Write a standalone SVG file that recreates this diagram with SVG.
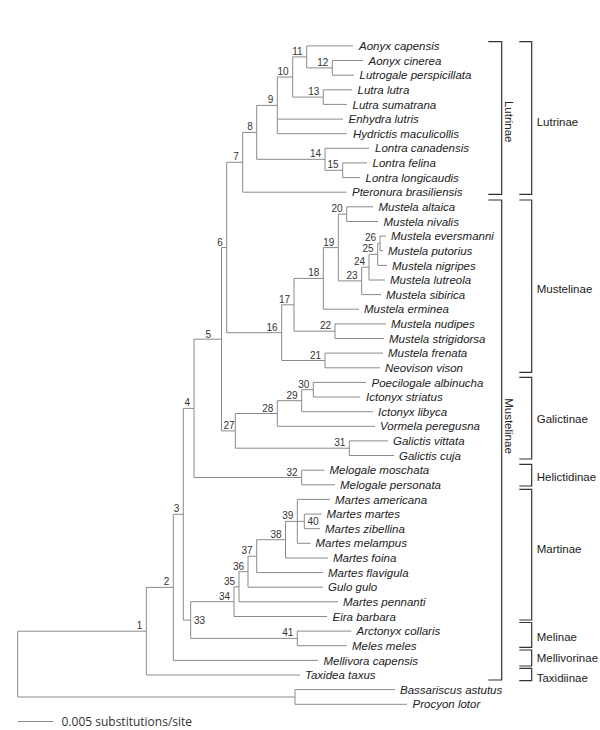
<svg xmlns="http://www.w3.org/2000/svg" width="600" height="730" viewBox="0 0 600 730">
<style>
.br{fill:none;stroke:#8a8a8a;stroke-width:1}
.bk{fill:none;stroke:#333;stroke-width:1.2}
.tx{font-family:"Liberation Sans",Arial,sans-serif;font-style:italic;font-size:11.5px;fill:#222}
.nl{font-family:"Liberation Sans",Arial,sans-serif;font-size:10px;fill:#333;text-anchor:end}
.cl{font-family:"Liberation Sans",Arial,sans-serif;font-size:11.5px;fill:#222}
.sc{font-family:"Open Sans","DejaVu Sans",sans-serif;font-size:12px;fill:#333}
</style>
<rect width="600" height="730" fill="#fff"/>
<g id="connectors" class="br">
<path d="M17.7,631.2 V697"/>
<path d="M17.7,631.2 H146.3 M146.3,587.4 V675"/>
<path d="M146.3,587.4 H173.3 M173.3,514.3 V660.4"/>
<path d="M173.3,514.3 H183.3 M183.3,408.4 V620.1"/>
<path d="M183.3,408.4 H194 M194,339.2 V477.5"/>
<path d="M194,339.2 H221.5 M221.5,247.5 V430.9"/>
<path d="M221.5,247.5 H226.7 M226.7,162.3 V332.7"/>
<path d="M226.7,162.3 H242.7 M242.7,132.4 V192.2"/>
<path d="M242.7,132.4 H256.7 M256.7,105.4 V159.3"/>
<path d="M256.7,105.4 H277.3 M277.3,77 V133.7"/>
<path d="M277.3,77 H292.7 M292.7,56.9 V97.1"/>
<path d="M292.7,56.9 H306.7 M306.7,45.9 V67.9"/>
<path d="M306.7,67.9 H332.3 M332.3,60.5 V75.2"/>
<path d="M292.7,97.1 H323.3 M323.3,89.8 V104.4"/>
<path d="M256.7,159.3 H325 M325,148.3 V170.3"/>
<path d="M325,170.3 H342.7 M342.7,162.9 V177.6"/>
<path d="M226.7,332.7 H281.7 M281.7,304.8 V360.5"/>
<path d="M281.7,304.8 H294 M294,278.4 V331.2"/>
<path d="M294,278.4 H323.3 M323.3,247.6 V309.2"/>
<path d="M323.3,247.6 H338.3 M338.3,214.2 V280.9"/>
<path d="M338.3,214.2 H346.7 M346.7,206.8 V221.5"/>
<path d="M281.7,360.5 H325 M325,353.1 V367.8"/>
<path d="M294,331.2 H335 M335,323.9 V338.5"/>
<path d="M338.3,280.9 H361.7 M361.7,267.2 V294.6"/>
<path d="M361.7,267.2 H369 M369,254.4 V280"/>
<path d="M369,254.4 H377.7 M377.7,243.4 V265.4"/>
<path d="M377.7,243.4 H380 M380,236.1 V250.7"/>
<path d="M221.5,430.9 H235.3 M235.3,413.5 V448.2"/>
<path d="M235.3,413.5 H277.3 M277.3,400.7 V426.3"/>
<path d="M277.3,400.7 H301.7 M301.7,389.7 V411.7"/>
<path d="M301.7,389.7 H313.3 M313.3,382.4 V397"/>
<path d="M235.3,448.2 H349.3 M349.3,440.9 V455.5"/>
<path d="M194,477.5 H301.7 M301.7,470.2 V484.8"/>
<path d="M183.3,620.1 H190.7 M190.7,601.7 V638.4"/>
<path d="M190.7,601.7 H234 M234,586.8 V616.5"/>
<path d="M234,586.8 H239 M239,571.7 V601.8"/>
<path d="M239,571.7 H248 M248,556.2 V587.2"/>
<path d="M248,556.2 H256.7 M256.7,539.7 V572.6"/>
<path d="M256.7,539.7 H285.5 M285.5,521.4 V558"/>
<path d="M285.5,521.4 H297.3 M297.3,499.4 V543.3"/>
<path d="M297.3,521.4 H304.3 M304.3,514.1 V528.7"/>
<path d="M190.7,638.4 H297.3 M297.3,631.1 V645.7"/>
<path d="M17.7,697 H295 M295,689.6 V704.3"/>
<path d="M306.7,45.9 H353"/>
<path d="M332.3,60.5 H363"/>
<path d="M332.3,75.2 H354"/>
<path d="M323.3,89.8 H352"/>
<path d="M323.3,104.4 H347"/>
<path d="M277.3,119.1 H343"/>
<path d="M277.3,133.7 H347"/>
<path d="M325,148.3 H369"/>
<path d="M342.7,162.9 H367"/>
<path d="M342.7,177.6 H360"/>
<path d="M242.7,192.2 H346.5"/>
<path d="M346.7,206.8 H373"/>
<path d="M346.7,221.5 H378"/>
<path d="M380,236.1 H386"/>
<path d="M380,250.7 H383"/>
<path d="M377.7,265.4 H387"/>
<path d="M369,280 H385"/>
<path d="M361.7,294.6 H381"/>
<path d="M323.3,309.2 H359"/>
<path d="M335,323.9 H386"/>
<path d="M335,338.5 H384"/>
<path d="M325,353.1 H383"/>
<path d="M325,367.8 H380"/>
<path d="M313.3,382.4 H366"/>
<path d="M313.3,397 H360"/>
<path d="M301.7,411.7 H373"/>
<path d="M277.3,426.3 H375"/>
<path d="M349.3,440.9 H388"/>
<path d="M349.3,455.5 H394"/>
<path d="M301.7,470.2 H324.5"/>
<path d="M301.7,484.8 H335"/>
<path d="M297.3,499.4 H330"/>
<path d="M304.3,514.1 H321.5"/>
<path d="M304.3,528.7 H320"/>
<path d="M297.3,543.3 H310.5"/>
<path d="M285.5,558 H328"/>
<path d="M256.7,572.6 H323"/>
<path d="M248,587.2 H323"/>
<path d="M239,601.8 H338"/>
<path d="M234,616.5 H327"/>
<path d="M297.3,631.1 H351.5"/>
<path d="M297.3,645.7 H347"/>
<path d="M173.3,660.4 H318"/>
<path d="M146.3,675 H300"/>
<path d="M295,689.6 H395"/>
<path d="M295,704.3 H407"/>
</g>
<g id="taxa" class="tx">
<g id="t00"><text x="359" y="50">Aonyx capensis</text></g>
<g id="t01"><text x="368.5" y="64.6">Aonyx cinerea</text></g>
<g id="t02"><text x="359.5" y="79.3">Lutrogale perspicillata</text></g>
<g id="t03"><text x="357.5" y="93.9">Lutra lutra</text></g>
<g id="t04"><text x="352.5" y="108.5">Lutra sumatrana</text></g>
<g id="t05"><text x="348.5" y="123.2">Enhydra lutris</text></g>
<g id="t06"><text x="353" y="137.8">Hydrictis maculicollis</text></g>
<g id="t07"><text x="375" y="152.4">Lontra canadensis</text></g>
<g id="t08"><text x="372.5" y="167">Lontra felina</text></g>
<g id="t09"><text x="365.5" y="181.7">Lontra longicaudis</text></g>
<g id="t10"><text x="352" y="196.3">Pteronura brasiliensis</text></g>
<g id="t11"><text x="378.5" y="210.9">Mustela altaica</text></g>
<g id="t12"><text x="383.5" y="225.6">Mustela nivalis</text></g>
<g id="t13"><text x="391" y="240.2">Mustela eversmanni</text></g>
<g id="t14"><text x="388" y="254.8">Mustela putorius</text></g>
<g id="t15"><text x="392" y="269.5">Mustela nigripes</text></g>
<g id="t16"><text x="390" y="284.1">Mustela lutreola</text></g>
<g id="t17"><text x="386" y="298.7">Mustela sibirica</text></g>
<g id="t18"><text x="364" y="313.3">Mustela erminea</text></g>
<g id="t19"><text x="391" y="328">Mustela nudipes</text></g>
<g id="t20"><text x="389" y="342.6">Mustela strigidorsa</text></g>
<g id="t21"><text x="388" y="357.2">Mustela frenata</text></g>
<g id="t22"><text x="385" y="371.9">Neovison vison</text></g>
<g id="t23"><text x="371.5" y="386.5">Poecilogale albinucha</text></g>
<g id="t24"><text x="366" y="401.1">Ictonyx striatus</text></g>
<g id="t25"><text x="378" y="415.8">Ictonyx libyca</text></g>
<g id="t26"><text x="380" y="430.4">Vormela peregusna</text></g>
<g id="t27"><text x="393" y="445">Galictis vittata</text></g>
<g id="t28"><text x="399" y="459.6">Galictis cuja</text></g>
<g id="t29"><text x="329.5" y="474.3">Melogale moschata</text></g>
<g id="t30"><text x="340" y="488.9">Melogale personata</text></g>
<g id="t31"><text x="335" y="503.5">Martes americana</text></g>
<g id="t32"><text x="326.5" y="518.2">Martes martes</text></g>
<g id="t33"><text x="325" y="532.8">Martes zibellina</text></g>
<g id="t34"><text x="315.5" y="547.4">Martes melampus</text></g>
<g id="t35"><text x="333" y="562.1">Martes foina</text></g>
<g id="t36"><text x="328" y="576.7">Martes flavigula</text></g>
<g id="t37"><text x="328" y="591.3">Gulo gulo</text></g>
<g id="t38"><text x="343" y="605.9">Martes pennanti</text></g>
<g id="t39"><text x="332.5" y="620.6">Eira barbara</text></g>
<g id="t40"><text x="356.5" y="635.2">Arctonyx collaris</text></g>
<g id="t41"><text x="352" y="649.8">Meles meles</text></g>
<g id="t42"><text x="323.5" y="664.5">Mellivora capensis</text></g>
<g id="t43"><text x="305" y="679.1">Taxidea taxus</text></g>
<g id="t44"><text x="400" y="693.7">Bassariscus astutus</text></g>
<g id="t45"><text x="412.5" y="708.4">Procyon lotor</text></g>
</g>
<g id="nodes" class="nl">
<g id="n1"><text x="142.3" y="629.2">1</text></g>
<g id="n2"><text x="169.3" y="585.4">2</text></g>
<g id="n3"><text x="179.3" y="512.3">3</text></g>
<g id="n4"><text x="190" y="406.4">4</text></g>
<g id="n5"><text x="211" y="337.5">5</text></g>
<g id="n6"><text x="222.7" y="245.5">6</text></g>
<g id="n7"><text x="238.7" y="160.3">7</text></g>
<g id="n8"><text x="252.7" y="130.4">8</text></g>
<g id="n9"><text x="273.3" y="103.4">9</text></g>
<g id="n10"><text x="288.7" y="75">10</text></g>
<g id="n11"><text x="302.7" y="54.9">11</text></g>
<g id="n12"><text x="328.3" y="65.9">12</text></g>
<g id="n13"><text x="319.3" y="95.1">13</text></g>
<g id="n14"><text x="321" y="157.3">14</text></g>
<g id="n15"><text x="338.7" y="168.3">15</text></g>
<g id="n16"><text x="277.7" y="330.7">16</text></g>
<g id="n17"><text x="290" y="302.8">17</text></g>
<g id="n18"><text x="319.3" y="276.4">18</text></g>
<g id="n19"><text x="334.3" y="245.6">19</text></g>
<g id="n20"><text x="342.7" y="212.2">20</text></g>
<g id="n21"><text x="321" y="358.5">21</text></g>
<g id="n22"><text x="331" y="329.2">22</text></g>
<g id="n23"><text x="357.7" y="278.9">23</text></g>
<g id="n24"><text x="365" y="265.2">24</text></g>
<g id="n25"><text x="373.7" y="252.4">25</text></g>
<g id="n26"><text x="376" y="241.4">26</text></g>
<g id="n27"><text x="234.5" y="429">27</text></g>
<g id="n28"><text x="273.3" y="411.5">28</text></g>
<g id="n29"><text x="297.7" y="398.7">29</text></g>
<g id="n30"><text x="309.3" y="387.7">30</text></g>
<g id="n31"><text x="345.3" y="446.2">31</text></g>
<g id="n32"><text x="297.7" y="475.5">32</text></g>
<g id="n33"><text x="194" y="623.6" style="text-anchor:start">33</text></g>
<g id="n34"><text x="230" y="599.7">34</text></g>
<g id="n35"><text x="235" y="584.8">35</text></g>
<g id="n36"><text x="244" y="569.7">36</text></g>
<g id="n37"><text x="252.7" y="554.2">37</text></g>
<g id="n38"><text x="281.5" y="537.7">38</text></g>
<g id="n39"><text x="293.3" y="519.4">39</text></g>
<g id="n40"><text x="307.5" y="525" style="text-anchor:start">40</text></g>
<g id="n41"><text x="293.3" y="636.4">41</text></g>
</g>
<g id="groups">
<g id="g-lutrinae-inner"><path class="bk" d="M488.3,41.7 H501.7 V194.3 H488.3"/><text class="cl" transform="translate(505,121.7) rotate(90)" text-anchor="middle">Lutrinae</text></g>
<g id="g-mustelinae-inner"><path class="bk" d="M488.3,200 H501.7 V680 H488.3"/><text class="cl" transform="translate(505,426) rotate(90)" text-anchor="middle">Mustelinae</text></g>
<g id="g-lutrinae"><path class="bk" d="M519.3,41.7 H531.7 V194.3 H519.3"/><text class="cl" x="536.7" y="125.5">Lutrinae</text></g>
<g id="g-mustelinae"><path class="bk" d="M519.3,200 H531.7 V372.3 H519.3"/><text class="cl" x="536.7" y="293">Mustelinae</text></g>
<g id="g-galictinae"><path class="bk" d="M519.3,377.3 H531.7 V459 H519.3"/><text class="cl" x="536.7" y="423">Galictinae</text></g>
<g id="g-helictidinae"><path class="bk" d="M519.3,464.3 H531.7 V486 H519.3"/><text class="cl" x="536.7" y="480.5">Helictidinae</text></g>
<g id="g-martinae"><path class="bk" d="M519.3,489.3 H531.7 V620 H519.3"/><text class="cl" x="536.7" y="553">Martinae</text></g>
<g id="g-melinae"><path class="bk" d="M519.3,622.5 H531.7 V647.3 H519.3"/><text class="cl" x="536.7" y="640.5">Melinae</text></g>
<g id="g-mellivorinae"><path class="bk" d="M519.3,650 H531.7 V666 H519.3"/><text class="cl" x="536.7" y="662">Mellivorinae</text></g>
<g id="g-taxidiinae"><path class="bk" d="M519.3,668.3 H531.7 V680.7 H519.3"/><text class="cl" x="536.7" y="682">Taxidiinae</text></g>
</g>
<g id="scale">
<path class="br" d="M17.7,721.5 H53.3"/>
<text class="sc" x="61.5" y="725.5">0.005 substitutions/site</text>
</g>
</svg>
